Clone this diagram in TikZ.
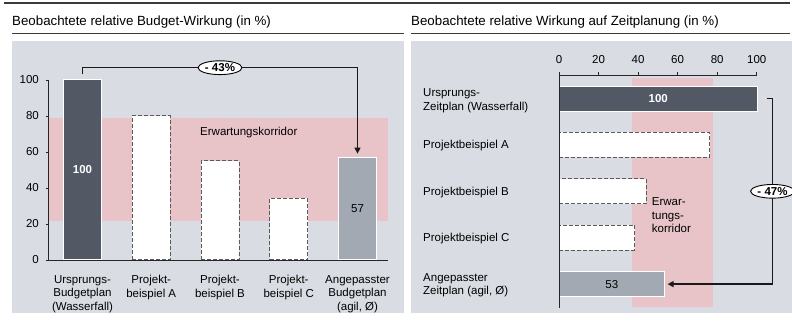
\documentclass[tikz,border=0pt]{standalone}
\usepackage{fontspec}
\setmainfont{Liberation Sans}
\usetikzlibrary{shapes.geometric,arrows.meta}
\definecolor{panelgray}{HTML}{D9DDE3}
\definecolor{corridor}{HTML}{E8C3C8}
\definecolor{darkbar}{HTML}{525864}
\definecolor{lightbar}{HTML}{A3A9B2}
\definecolor{rulegray}{HTML}{3A3A3A}
\definecolor{dashgray}{HTML}{5A5A5A}
\begin{document}
\begin{tikzpicture}[x=1pt,y=-1pt,
  lbl/.style={font=\fontsize{11.5}{13.5}\selectfont, inner sep=0pt},
  title/.style={font=\fontsize{13.3}{16}\selectfont, inner sep=0pt, anchor=base west},
  solidbar/.style={draw=white, line width=0.8pt, inner sep=0pt, font=\fontsize{11.5}{13.5}\selectfont},
  dashbar/.style={draw=dashgray, fill=white, dash pattern=on 4pt off 2pt, line width=0.8pt, inner sep=0pt},
  hrule/.style={draw=rulegray, line width=1.2pt},
  axis/.style={draw=black!85, line width=0.9pt},
  conn/.style={draw=black!90, line width=1.3pt, -{Triangle[length=6pt,width=6pt]}},
  badge/.style={ellipse, draw=black, fill=white, line width=0.9pt, inner xsep=0.5pt, inner ysep=0.8pt, font=\fontsize{11.5}{13.5}\selectfont\bfseries}
]
\useasboundingbox (0,0) rectangle (792,322);

% panels and header rules
\fill[panelgray] (12,40.5) rectangle (404,313);
\fill[panelgray] (411,40.5) rectangle (792,313);
\draw[hrule] (4,3) -- (790,3);
\draw[hrule] (12,33.5) -- (404,33.5);
\draw[hrule] (411,33.5) -- (790,33.5);
\node[title] (tl) at (12,25.5) {Beobachtete relative Budget-Wirkung (in \%)};
\node[title] (tr) at (411,25.5) {Beobachtete relative Wirkung auf Zeitplanung (in \%)};

% ---------- budget chart (vertical bars, 1 unit = 1.8pt) ----------
\fill[corridor] (48,117.5) rectangle (388,220.5);
\node[lbl, anchor=base west] (kl) at (200,135) {Erwartungskorridor};

\node[solidbar, fill=darkbar, text=white, anchor=south, minimum width=38pt, minimum height=180pt] (b1) at (82.5,260) {\bfseries 100};
\node[dashbar, anchor=south, minimum width=38pt, minimum height=144pt] (b2) at (151.25,260) {};
\node[dashbar, anchor=south, minimum width=38pt, minimum height=99pt] (b3) at (220,260) {};
\node[dashbar, anchor=south, minimum width=38pt, minimum height=61.2pt] (b4) at (288.75,260) {};
\node[solidbar, fill=lightbar, anchor=south, minimum width=38pt, minimum height=102.6pt] (b5) at (357.5,260) {57};

\draw[axis] (48,80) -- (48,260) -- (388,260);
\foreach \v in {0,20,...,100}{
  \draw[axis] (45.5,{260-1.8*\v}) -- (48,{260-1.8*\v});
  \node[lbl, anchor=east] (yl\v) at (39,{260-1.8*\v}) {\v};
}

\node[lbl, anchor=north, align=center] (c1) at (82.5,275) {Ursprungs-\\Budgetplan\\(Wasserfall)};
\node[lbl, anchor=north, align=center] (c2) at (151.25,275) {Projekt-\\beispiel A};
\node[lbl, anchor=north, align=center] (c3) at (220,275) {Projekt-\\beispiel B};
\node[lbl, anchor=north, align=center] (c4) at (288.75,275) {Projekt-\\beispiel C};
\node[lbl, anchor=north, align=center] (c5) at (357.5,275) {Angepasster\\Budgetplan\\(agil, Ø)};

\draw[conn] ([yshift=5pt]b1.north) -- ++(0,-6.5) -| node[badge, pos=0.25] (p43) {- 43\%} ([yshift=3pt]b5.north);

% ---------- schedule chart (horizontal bars, 1 unit = 1.977pt) ----------
\fill[corridor] (632,77.5) rectangle (713.3,307.3);
\node[lbl, anchor=north west, align=left] (kr) at (651.7,197.8) {Erwar-\\tungs-\\korridor};

\node[solidbar, fill=darkbar, text=white, anchor=west, minimum width=197.7pt, minimum height=25pt] (r1) at (559,98.5) {\bfseries 100};
\node[dashbar, anchor=west, minimum width=150.3pt, minimum height=25pt] (r2) at (559,144.9) {};
\node[dashbar, anchor=west, minimum width=87pt, minimum height=25pt] (r3) at (559,191.3) {};
\node[dashbar, anchor=west, minimum width=75.1pt, minimum height=25pt] (r4) at (559,237.7) {};
\node[solidbar, fill=lightbar, anchor=west, minimum width=104.8pt, minimum height=25pt] (r5) at (559,284.1) {53};

\draw[axis] (559,307.5) -- (559,75) -- (757,75);
\foreach \v in {0,20,...,100}{
  \draw[axis] ({559+1.977*\v},75) -- ({559+1.977*\v},72);
  \node[lbl, anchor=base] (xl\v) at ({559+1.977*\v},63.5) {\v};
}

\node[lbl, anchor=north west, align=left] (l1) at (423,88.5) {Ursprungs-\\Zeitplan (Wasserfall)};
\node[lbl, anchor=base west] (l2) at (423,148.9) {Projektbeispiel A};
\node[lbl, anchor=base west] (l3) at (423,195.3) {Projektbeispiel B};
\node[lbl, anchor=base west] (l4) at (423,241.7) {Projektbeispiel C};
\node[lbl, anchor=north west, align=left] (l5) at (423,273.1) {Angepasster\\Zeitplan (agil, Ø)};

\draw[conn] ([xshift=9pt]r1.east) -- ++(6,0) |- node[badge, pos=0.25] (p47) {- 47\%} ([xshift=3pt]r5.east);
\end{tikzpicture}
\end{document}
